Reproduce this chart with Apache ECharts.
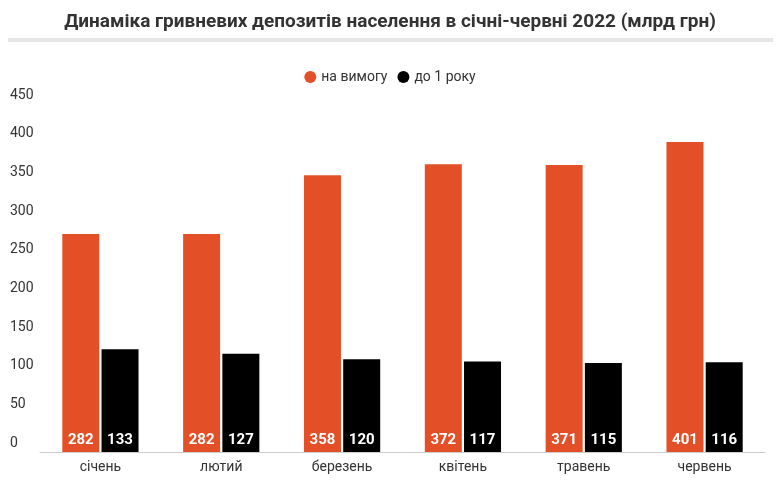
<!DOCTYPE html>
<html>
<head>
<meta charset="utf-8">
<script src="https://cdn.jsdelivr.net/npm/echarts@6/dist/echarts.min.js"></script>
<style>html,body{margin:0;padding:0;background:#fff}#chart{width:780px;height:490px}</style>
</head>
<body>
<div id="chart"></div>
<script>
var months = ['січень', 'лютий', 'березень', 'квітень', 'травень', 'червень'];
var onDemand = [282, 282, 358, 372, 371, 401];
var upToYear = [133, 127, 120, 117, 115, 116];
var yTicks = [0, 50, 100, 150, 200, 250, 300, 350, 400, 450];

var chart = echarts.init(document.getElementById('chart'));
var barLabel = {
    show: true, position: 'insideBottom', distance: 4,
    color: '#fff', fontWeight: 'bold', fontSize: 15, fontFamily: 'Roboto'
};
chart.setOption({
    title: {
        text: 'Динаміка гривневих депозитів населення в січні-червні 2022 (млрд грн)',
        left: 'center', top: 8,
        textStyle: { color: '#333', fontSize: 19, fontWeight: 'bold', fontFamily: 'Roboto' }
    },
    graphic: [{
        type: 'rect', shape: { x: 8, y: 38, width: 765, height: 4 },
        style: { fill: '#e6e6e6' }
    }],
    legend: {
        top: 65, left: 'center', icon: 'circle', itemWidth: 12, itemHeight: 12, itemGap: 10,
        textStyle: { color: '#333', fontSize: 14, fontFamily: 'Roboto' }
    },
    grid: { left: 40, right: 15, top: 104, bottom: 38 },
    xAxis: {
        type: 'category', data: months,
        axisLine: { lineStyle: { color: '#ccc' } },
        axisTick: { show: false },
        axisLabel: { color: '#333', fontSize: 14, fontFamily: 'Roboto', margin: 8 }
    },
    yAxis: {
        type: 'value', min: 0, max: yTicks[yTicks.length - 1], interval: 50,
        splitLine: { show: false },
        axisLabel: {
            inside: true, margin: -30, verticalAlign: 'bottom', align: 'left',
            color: '#333', fontSize: 14, fontFamily: 'Roboto', padding: [0, 0, 2, 0]
        }
    },
    series: [
        { name: 'на вимогу', type: 'bar', data: onDemand, barWidth: 37, barGap: '6%',
          itemStyle: { color: '#e34f26' }, label: barLabel },
        { name: 'до 1 року', type: 'bar', data: upToYear, barWidth: 37,
          itemStyle: { color: '#000' }, label: barLabel }
    ]
});
</script>
</body>
</html>
